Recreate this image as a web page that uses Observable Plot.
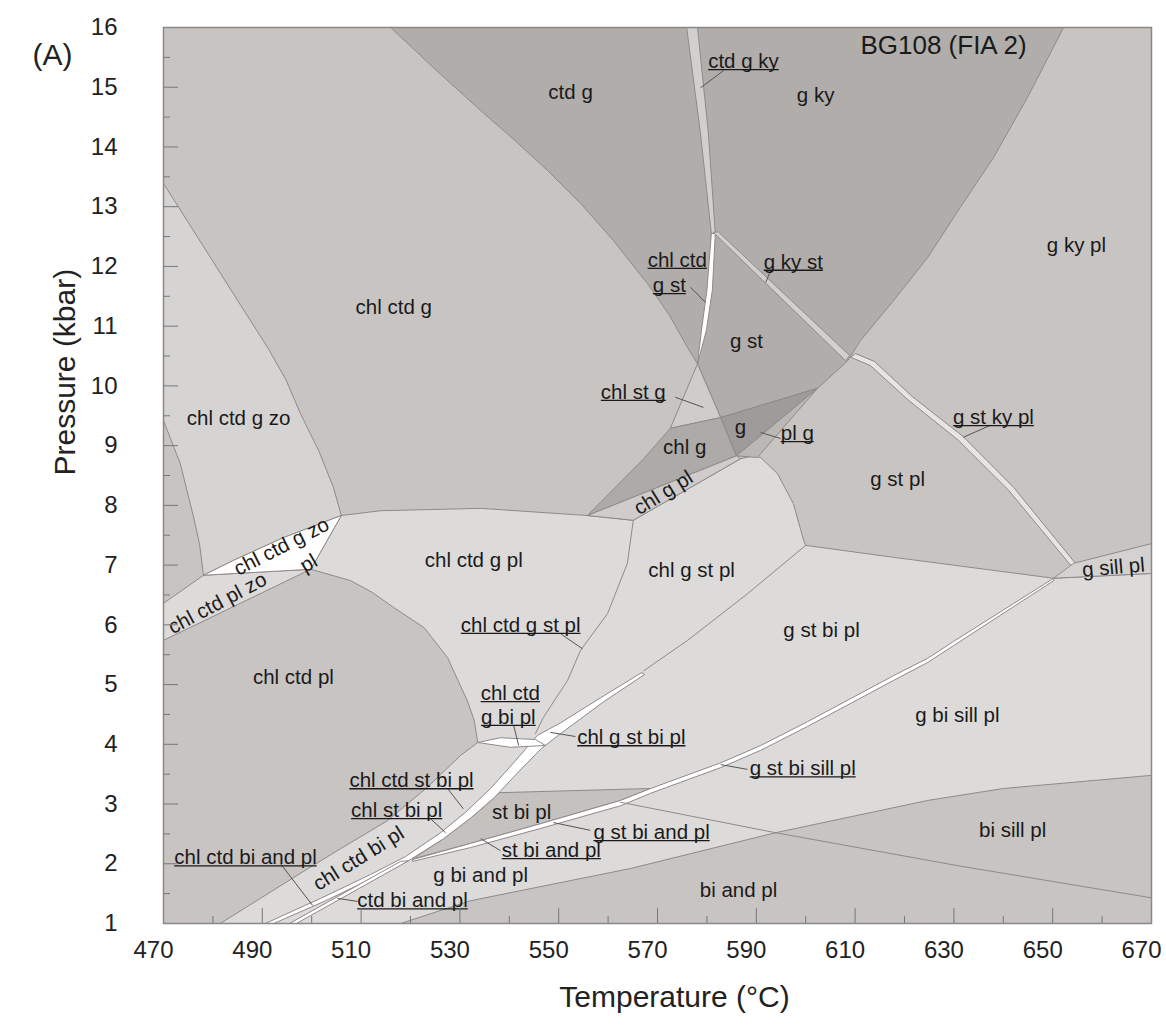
<!DOCTYPE html>
<html><head><meta charset="utf-8">
<script src="https://cdn.jsdelivr.net/npm/d3@7"></script>
<script src="https://cdn.jsdelivr.net/npm/@observablehq/plot@0.6"></script>
<style>body{margin:0;background:#fff}</style>
</head><body><div id="chart"></div>
<script>
// ---- axis ticks ----
const xMajorTicks = [470,490,510,530,550,570,590,610,630,650,670];
const xMinorTicks = [480,500,520,540,560,580,600,620,640,660];
const yMajorTicks = [1,2,3,4,5,6,7,8,9,10,11,12,13,14,15,16];
const yMinorTicks = [1.5,2.5,3.5,4.5,5.5,6.5,7.5,8.5,9.5,10.5,11.5,12.5,13.5,14.5,15.5];
const xTickLabels = xMajorTicks;
const yTickLabels = yMajorTicks;

// ---- field outlines, [T (°C), P (kbar)] ----
const fieldLowerLight = [[506.0,7.83],[513.9,7.91],[534.2,7.95],[555.8,7.83],[565.1,7.75],[586.8,8.78],[589.4,8.83],[590.9,8.80],[594.3,8.53],[597.5,8.03],[599.6,7.41],[600.0,7.33],[617.8,7.13],[650.2,6.78],[670,6.86],[670,3.48],[640.0,3.26],[624.7,3.06],[593.9,2.52],[564.5,1.92],[532.1,1.38],[518.0,1],[481.5,1],[489.6,1.42],[498.3,1.87],[505.8,2.25],[515.3,2.72],[523.4,3.28],[530.1,3.81],[533.6,4.03],[532.9,4.40],[531.5,4.73],[527.5,5.45],[522.8,5.95],[516.6,6.29],[512.3,6.54],[507.9,6.74],[499.8,6.93],[506.0,7.83]];
const fieldChlCtdGZo = [[470,13.39],[479.5,12.15],[486.0,11.30],[491.1,10.64],[494.8,10.10],[497.7,9.54],[501.5,8.90],[504.4,8.30],[506.0,7.83],[494.3,7.46],[484.2,7.08],[478.1,6.83],[477.3,7.35],[476.1,7.80],[473.4,8.70],[471.5,9.10],[470,9.42],[470,13.39]];
const fieldChlCtdPlZo = [[470,6.36],[478.1,6.83],[499.8,6.93],[470,5.74],[470,6.36]];
const fieldChlCtdGZoPl = [[478.1,6.83],[484.2,7.08],[494.3,7.46],[506.0,7.83],[499.8,6.93],[478.1,6.83]];
const fieldHighP = [[516.0,16],[652.2,16],[644.9,14.83],[638.0,13.82],[631.3,12.99],[624.7,12.15],[617.8,11.43],[611.1,10.76],[608.5,10.42],[602.4,9.96],[582.8,9.47],[578.1,10.37],[576.1,10.64],[572.3,11.20],[568.0,11.71],[561.1,12.43],[554.5,13.05],[547.7,13.61],[541.0,14.12],[534.2,14.61],[525.0,15.30],[516.0,16]];
const fieldCtdGKy = [[575.9,16],[578.1,16],[580.3,14.23],[581.7,12.55],[580.9,12.55],[578.7,14.23],[575.9,16]];
const fieldChlCtdGSt = [[580.9,12.55],[581.7,12.55],[581.1,11.60],[579.9,10.93],[578.1,10.37],[578.9,10.93],[580.0,11.60],[580.9,12.55]];
const fieldGKySt = [[581.3,12.57],[582.3,12.58],[608.9,10.51],[608.1,10.42],[581.3,12.57]];
const fieldChlStG = [[578.1,10.37],[582.8,9.47],[572.6,9.29],[578.1,10.37]];
const fieldChlG = [[555.8,7.83],[567.2,8.78],[572.6,9.29],[582.8,9.47],[586.0,8.83],[555.8,7.83]];
const fieldG = [[582.8,9.47],[602.4,9.96],[586.0,8.83],[582.8,9.47]];
const fieldPlG = [[602.4,9.96],[586.0,8.83],[590.2,8.80],[602.4,9.96]];
const fieldChlGPl = [[555.8,7.83],[586.0,8.83],[586.8,8.78],[565.1,7.75],[555.8,7.83]];
const fieldGStKyPl = [[609.1,10.48],[613.1,10.34],[620.8,9.76],[630.9,9.09],[641.1,8.25],[653.8,6.98],[654.6,7.03],[642.1,8.30],[631.9,9.15],[621.6,9.82],[613.9,10.41],[610.1,10.54],[609.1,10.48]];
const fieldGSillPl = [[650.2,6.78],[654.2,7.03],[670,7.36],[670,6.86],[650.2,6.78]];
const fieldStBiPl = [[538.0,3.19],[568.6,3.26],[562.5,3.06],[546.3,2.67],[532.1,2.34],[520.4,2.08],[526.7,2.42],[532.1,2.76],[537.0,3.11],[538.0,3.19]];
const fieldChlGStBiPl = [[566.8,5.20],[558.5,4.78],[550.4,4.36],[545.7,4.15],[541.3,3.73],[536.2,3.26],[531.1,2.86],[526.1,2.52],[519.0,2.12],[511.9,1.82],[501.8,1.42],[490.6,1],[492.3,1],[502.8,1.38],[512.5,1.77],[519.6,2.05],[526.7,2.42],[532.1,2.76],[537.0,3.11],[542.1,3.56],[546.5,3.93],[550.4,4.18],[558.9,4.70],[567.4,5.17],[566.8,5.20]];
const fieldCtdBiAndPlEdge = [[495.5,1],[518.0,2.04],[519.6,2.05],[496.9,1],[495.5,1]];
const fieldGStBiSillPl = [[650.2,6.78],[629.9,5.72],[624.7,5.44],[617.8,5.15],[600.4,4.38],[590.9,3.98],[582.8,3.69],[568.6,3.26],[562.5,3.06],[546.3,2.67],[532.1,2.34],[520.4,2.07],[520.4,2.04],[532.1,2.27],[546.3,2.59],[562.5,2.97],[568.6,3.18],[582.8,3.61],[590.9,3.90],[600.4,4.30],[617.8,5.07],[624.7,5.37],[629.9,5.65],[650.2,6.74],[650.2,6.78]];
const fieldChlCtdGBiPl = [[533.6,4.03],[538.2,4.11],[545.3,4.08],[547.3,3.98],[540.2,3.95],[533.6,4.03]];

// ---- extra boundary lines ----
const lineChlCtdGPlRight = [[565.1,7.75],[563.9,7.03],[559.9,6.19],[554.4,5.57],[551.8,5.07],[546.9,4.45],[545.3,4.18]];
const lineChlGStPlLower = [[600.0,7.33],[588.2,6.52],[576.1,5.74],[567.2,5.23]];
const lineGStBiAndPl = [[562.5,3.03],[593.9,2.52]];
const lineBiSillPl = [[593.9,2.52],[631.3,1.96],[670,1.43]];

// ---- labels ----
const fieldLabels = [
  {text:"ctd g", T:552.4, P:14.91},
  {text:"g ky", T:602.0, P:14.86},
  {text:"g ky pl", T:654.8, P:12.35},
  {text:"chl ctd g", T:516.6, P:11.31},
  {text:"g st", T:588.0, P:10.74},
  {text:"chl ctd g zo", T:485.2, P:9.45},
  {text:"chl g", T:575.5, P:8.97},
  {text:"g", T:586.8, P:9.30},
  {text:"g st pl", T:618.6, P:8.43},
  {text:"chl ctd g pl", T:532.8, P:7.08},
  {text:"chl g st pl", T:576.9, P:6.91},
  {text:"g st bi pl", T:603.2, P:5.90},
  {text:"chl ctd pl", T:496.3, P:5.12},
  {text:"g bi sill pl", T:630.7, P:4.48},
  {text:"st bi pl", T:542.5, P:2.86},
  {text:"bi sill pl", T:641.9, P:2.56},
  {text:"g bi and pl", T:534.2, P:1.80},
  {text:"bi and pl", T:586.4, P:1.55}
];
const tiltedLabels = [
  {text:"chl g pl", T:571.2, P:8.21},
  {text:"chl ctd g zo", T:493.9, P:7.31},
  {text:"pl", T:499.4, P:7.03},
  {text:"chl ctd pl zo", T:480.9, P:6.36},
  {text:"g sill pl", T:662.3, P:6.96},
  {text:"chl ctd bi pl", T:509.5, P:2.09}
];
const smallFieldLabels = [
  {text:"ctd g ky", T:587.4, P:15.43},
  {text:"chl ctd", T:574.0, P:12.10},
  {text:"g st", T:572.4, P:11.68},
  {text:"g ky st", T:597.5, P:12.07},
  {text:"chl st g", T:565.1, P:9.89},
  {text:"pl g", T:598.3, P:9.20},
  {text:"g st ky pl", T:638.0, P:9.47},
  {text:"chl ctd g st pl", T:542.3, P:5.99},
  {text:"chl ctd", T:540.2, P:4.85},
  {text:"g bi pl", T:539.8, P:4.45},
  {text:"chl g st bi pl", T:564.7, P:4.11},
  {text:"g st bi sill pl", T:599.4, P:3.59},
  {text:"chl ctd st bi pl", T:520.2, P:3.39},
  {text:"chl st bi pl", T:517.2, P:2.89},
  {text:"st bi and pl", T:548.5, P:2.22},
  {text:"g st bi and pl", T:568.8, P:2.52},
  {text:"chl ctd bi and pl", T:486.6, P:2.10},
  {text:"ctd bi and pl", T:520.4, P:1.38}
];
const leaders = [
  {T1:578.7,P1:14.99,T2:583.4,P2:15.28},
  {T1:576.7,P1:11.65,T2:579.7,P2:11.40},
  {T1:591.9,P1:11.73,T2:592.9,P2:11.93},
  {T1:573.6,P1:9.81,T2:579.3,P2:9.64},
  {T1:590.9,P1:9.22,T2:594.9,P2:9.12},
  {T1:631.9,P1:9.14,T2:637.4,P2:9.34},
  {T1:550.4,P1:5.85,T2:554.8,P2:5.60},
  {T1:540.9,P1:4.31,T2:541.9,P2:3.98},
  {T1:548.3,P1:4.20,T2:553.4,P2:4.13},
  {T1:582.8,P1:3.66,T2:588.2,P2:3.58},
  {T1:527.5,P1:3.26,T2:530.7,P2:2.92},
  {T1:524.0,P1:2.76,T2:527.1,P2:2.52},
  {T1:534.2,P1:2.42,T2:538.2,P2:2.22},
  {T1:548.9,P1:2.69,T2:556.4,P2:2.56},
  {T1:493.7,P1:2.00,T2:500.2,P2:1.30},
  {T1:505.2,P1:1.42,T2:509.3,P2:1.37}
];
const sampleTag = [{text:"BG108 (FIA 2)", T:627.9, P:15.70}];

// ---- styles ----
const tones = {
  medium:"#c8c4c2", light:"#dcdbda", zo:"#d6d4d3", dark:"#b1adab", darker:"#aeaaa8",
  darkest:"#9f9b9a", pale:"#cfcccb", sliver:"#d2d0cf", white:"#ffffff", sill:"#d4d2d1",
  stbi:"#c5c1bf", plg:"#bbb7b5", gstky:"#e6e5e5"
};
const edge = "#8e8a89";
const ink = "#1a1a1a";
const labelSize = 20.5;
const fields = [
  [fieldLowerLight,"light"],[fieldChlCtdGZo,"zo"],[fieldChlCtdPlZo,"light"],[fieldChlCtdGZoPl,"white"],
  [fieldHighP,"dark"],[fieldCtdGKy,"sliver"],[fieldChlCtdGSt,"white"],[fieldGKySt,"sliver"],
  [fieldChlStG,"pale"],[fieldChlG,"darker"],[fieldG,"darkest"],[fieldPlG,"plg"],[fieldChlGPl,"pale"],
  [fieldGStKyPl,"gstky"],[fieldGSillPl,"sill"],[fieldStBiPl,"stbi"],
  [fieldChlGStBiPl,"white"],[fieldCtdBiAndPlEdge,"white"],[fieldGStBiSillPl,"white"],[fieldChlCtdGBiPl,"white"]
];
const boundaryLines = [lineChlCtdGPlRight, lineChlGStPlLower, lineGStBiAndPl, lineBiSillPl];
const pts = (a) => a.map(([T,P]) => ({T,P}));
const labelAngles = {"chl g pl":-32,"chl ctd g zo":-27,"pl":-30,"chl ctd pl zo":-28,"g sill pl":-5,"chl ctd bi pl":-32};

// underline spans for the small-field labels (text width measured, converted to data units)
const W = 1166, H = 1025, ML = 163, MR = 15, MT = 27, MB = 102;
const pxPerT = (W - ML - MR) / 200, pxPerP = (H - MT - MB) / 15;
const ctx = document.createElement("canvas").getContext("2d");
ctx.font = `${labelSize}px 'Liberation Sans', Arial, sans-serif`;
const underlines = smallFieldLabels.map(d => {
  const half = ctx.measureText(d.text).width / 2 / pxPerT;
  const P = d.P - 8 / pxPerP;
  return {T1: d.T - half, T2: d.T + half, P};
});

const svg = Plot.plot({
  width: W, height: H,
  marginLeft: ML, marginRight: MR, marginTop: MT, marginBottom: MB,
  x: {domain: [470, 670], axis: null},
  y: {domain: [1, 16], axis: null},
  style: {fontFamily: "'Liberation Sans', Arial, sans-serif", background: "#fff", overflow: "visible"},
  marks: [
    Plot.frame({fill: tones.medium}),
    ...fields.map(([f, t]) => Plot.line(pts(f), {x: "T", y: "P", fill: tones[t], stroke: edge, strokeWidth: 1, curve: "linear"})),
    ...boundaryLines.map(l => Plot.line(pts(l), {x: "T", y: "P", stroke: edge, strokeWidth: 1})),
    Plot.link(leaders, {x1: "T1", y1: "P1", x2: "T2", y2: "P2", stroke: "#555", strokeWidth: 1}),
    Plot.link(underlines, {x1: "T1", y1: "P", x2: "T2", y2: "P", stroke: ink, strokeWidth: 1.3}),
    Plot.text(fieldLabels, {x: "T", y: "P", text: "text", fontSize: labelSize, fill: ink}),
    Plot.text(tiltedLabels, {x: "T", y: "P", text: "text", rotate: d => labelAngles[d.text], fontSize: labelSize, fill: ink}),
    Plot.text(smallFieldLabels, {x: "T", y: "P", text: "text", fontSize: labelSize, fill: ink}),
    Plot.text(sampleTag, {x: "T", y: "P", text: "text", fontSize: 26, fill: ink}),
    Plot.ruleX(xMajorTicks, {x: d => d, insetTop: 881, stroke: "#777"}),
    Plot.ruleX(xMinorTicks, {x: d => d, insetTop: 889, stroke: "#777"}),
    Plot.ruleY(yMajorTicks, {y: d => d, insetRight: 973, stroke: "#777"}),
    Plot.ruleY(yMinorTicks, {y: d => d, insetRight: 981, stroke: "#777"}),
    Plot.frame({stroke: "#888", strokeWidth: 1.5}),
    Plot.text(xTickLabels, {x: d => d, text: d => String(d), frameAnchor: "bottom", dy: 34, dx: -10, fontSize: 24, fill: "#222"}),
    Plot.text(yTickLabels, {y: d => d, text: d => String(d), frameAnchor: "left", dx: -46, textAnchor: "end", fontSize: 24, fill: "#222"}),
    Plot.text(["Temperature (°C)"], {text: d => d, frameAnchor: "bottom", dy: 83, dx: 17, fontSize: 30, fill: "#222"}),
    Plot.text(["Pressure (kbar)"], {text: d => d, frameAnchor: "left", dx: -98, rotate: -90, fontSize: 30, fill: "#222"}),
    Plot.text(["(A)"], {text: d => d, frameAnchor: "top-left", dx: -131, dy: 16, fontSize: 30, fill: "#222"})
  ]
});
document.getElementById("chart").appendChild(svg);
</script></body></html>
